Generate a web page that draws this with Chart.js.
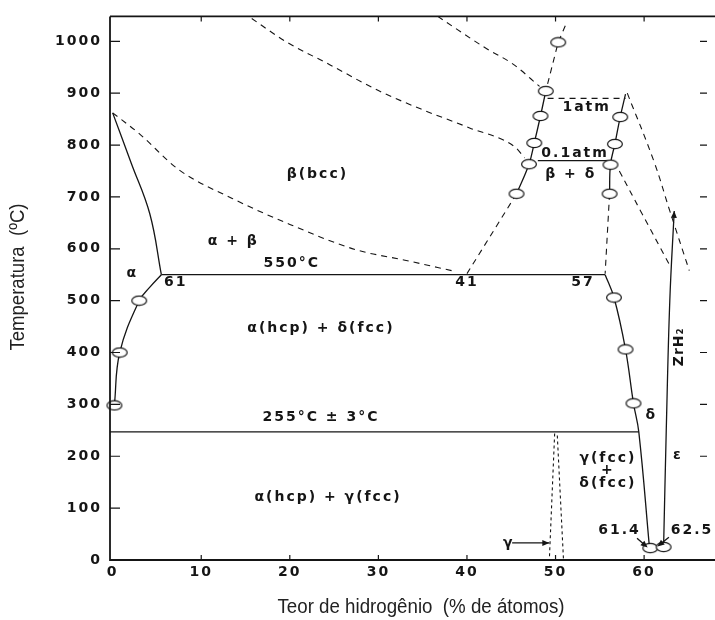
<!DOCTYPE html>
<html>
<head>
<meta charset="utf-8">
<script src="https://cdn.jsdelivr.net/npm/chart.js@4/dist/chart.umd.min.js"></script>
<style>
  html, body { margin: 0; background: #fff; }
</style>
</head>
<body>
<canvas id="chart" width="715" height="620"></canvas>
<script>
// tick labels
const xTicks = [0, 10, 20, 30, 40, 50, 60];
const yTicks = [0, 100, 200, 300, 400, 500, 600, 700, 800, 900, 1000];

// phase boundaries (x = % H atoms, y = temperature in C)
const alphaSolvusHigh = [{x: 0, y: 862}, {x: 2.1, y: 765}, {x: 4.2, y: 667}, {x: 5.5, y: 550}];
const alphaSolvusLow = [{x: 0.2, y: 300}, {x: 0.8, y: 400}, {x: 3.0, y: 500}, {x: 4.2, y: 526}, {x: 5.5, y: 550}];
const line550 = [{x: 5.5, y: 550}, {x: 55.6, y: 550}];
const line255 = [{x: -0.3, y: 247}, {x: 59.4, y: 247}];
const deltaLeft = [{x: 55.6, y: 550}, {x: 56.6, y: 506}, {x: 57.9, y: 406}, {x: 58.8, y: 302}, {x: 59.4, y: 247}, {x: 60.6, y: 25}];
const epsilonLine = [{x: 63.4, y: 673}, {x: 62.9, y: 500}, {x: 62.5, y: 250}, {x: 62.2, y: 25}];
const dashA = [{x: 58.1, y: 900}, {x: 61.1, y: 769}, {x: 62.9, y: 673}, {x: 65.1, y: 558}];
const dashB = [{x: 57.2, y: 750}, {x: 59.6, y: 673}, {x: 62.8, y: 571}];
const leftChainTop = [{x: 51.1, y: 1030}, {x: 50.3, y: 998}, {x: 48.9, y: 904}];
const leftChain = [{x: 48.9, y: 904}, {x: 48.3, y: 856}, {x: 47.6, y: 804}, {x: 47.0, y: 763}, {x: 45.6, y: 706}];
const leftChainLow = [{x: 45.6, y: 706}, {x: 40.0, y: 552}];
const rightChain = [{x: 57.9, y: 898}, {x: 57.3, y: 854}, {x: 56.7, y: 802}, {x: 56.2, y: 762}, {x: 56.1, y: 706}];
const rightChainLow = [{x: 56.1, y: 706}, {x: 55.6, y: 552}];
const isobar1 = [{x: 49.1, y: 890}, {x: 57.9, y: 890}];
const isobar01 = [{x: 48.0, y: 770}, {x: 56.2, y: 770}];
const betaUpper = [{x: 15.7, y: 1044}, {x: 19.5, y: 1000}, {x: 24.5, y: 955}, {x: 30, y: 905}, {x: 35, y: 868}, {x: 40.3, y: 833}, {x: 45.5, y: 795}, {x: 46.5, y: 775}];
const betaTop = [{x: 36.7, y: 1048}, {x: 42.1, y: 987}, {x: 45.2, y: 956}, {x: 48.2, y: 913}];
const betaLower = [{x: 0, y: 862}, {x: 3, y: 822}, {x: 7.5, y: 752}, {x: 13.5, y: 697}, {x: 20, y: 647}, {x: 27.5, y: 598}, {x: 33, y: 578}, {x: 38.5, y: 557}];
const gammaLeft = [{x: 49.9, y: 244}, {x: 49.3, y: 0}];
const gammaRight = [{x: 50.2, y: 240}, {x: 50.9, y: 0}];
const gammaArrow = [{x: 45.1, y: 33}, {x: 49.3, y: 33}];
const arrow614 = [{x: 59.2, y: 42}, {x: 60.4, y: 24}];
const arrow625 = [{x: 62.8, y: 44}, {x: 61.5, y: 26}];

// measured points (open circles)
const circles = [
  {x: 0.2, y: 298}, {x: 0.8, y: 400}, {x: 3.0, y: 500},
  {x: 50.3, y: 998}, {x: 48.9, y: 904}, {x: 48.3, y: 856}, {x: 47.6, y: 804}, {x: 47.0, y: 763}, {x: 45.6, y: 706},
  {x: 57.3, y: 854}, {x: 56.7, y: 802}, {x: 56.2, y: 762}, {x: 56.1, y: 706},
  {x: 56.6, y: 506}, {x: 57.9, y: 406}, {x: 58.8, y: 302},
  {x: 60.7, y: 23}, {x: 62.2, y: 25}
];

// text in the diagram: [text, x, y]
const notes = [
  ['β(bcc)', 23.0, 744], ['α + β', 13.5, 615], ['α', 2.1, 552], ['61', 7.0, 535],
  ['550°C', 20.1, 571], ['41', 39.9, 535], ['57', 53.0, 535],
  ['1atm', 53.4, 873], ['0.1atm', 52.1, 783], ['β + δ', 51.6, 744],
  ['α(hcp) + δ(fcc)', 23.4, 446], ['255°C ± 3°C', 23.4, 275], ['α(hcp) + γ(fcc)', 24.2, 121],
  ['γ(fcc)', 55.8, 196], ['+', 55.8, 173], ['δ(fcc)', 55.8, 148],
  ['δ', 60.7, 279], ['ε', 63.7, 202], ['61.4', 57.1, 58], ['62.5', 65.3, 58], ['γ', 44.6, 33]
];
const sideNote = ['ZrH₂', 64.0, 411];

const ink = '#151515';
const labelFont = 'bold 14px "DejaVu Sans", sans-serif';

// ellipse marker
const ring = document.createElement('canvas');
ring.width = 18; ring.height = 12;
const rg = ring.getContext('2d');
rg.beginPath();
rg.ellipse(9, 6, 7.4, 4.7, 0, 0, 2 * Math.PI);
rg.fillStyle = '#fff';
rg.fill();
rg.lineWidth = 1.2;
rg.strokeStyle = ink;
rg.stroke();

function curve(data, dash, smooth, extra) {
  return Object.assign({
    data: data,
    showLine: true,
    borderColor: ink,
    borderWidth: dash ? 1.1 : 1.3,
    borderDash: dash || [],
    pointRadius: 0,
    tension: smooth ? 0.4 : 0,
    cubicInterpolationMode: smooth === 'm' ? 'monotone' : 'default',
    order: 1
  }, extra || {});
}

const D = [6, 5];
const datasets = [
  {data: circles, showLine: false, pointStyle: ring, pointRadius: 7, clip: false, order: 0},
  curve(alphaSolvusHigh, null, 's'),
  curve(alphaSolvusLow, null, 's'),
  curve(line550),
  curve(line255),
  curve(deltaLeft, null, 's'),
  curve(epsilonLine, null, 's', {arrowAt: 'start'}),
  curve(dashA, D, 's'),
  curve(dashB, D, 's'),
  curve(leftChainTop, D),
  curve(leftChain, null, 's'),
  curve(leftChainLow, D),
  curve(rightChain, null, 's'),
  curve(rightChainLow, D),
  curve(isobar1, D),
  curve(isobar01),
  curve(betaUpper, D, 'm'),
  curve(betaTop, D, 'm'),
  curve(betaLower, D, 'm'),
  curve(gammaLeft, [3, 3]),
  curve(gammaRight, [3, 3]),
  curve(gammaArrow, null, null, {arrowAt: 'end'}),
  curve(arrow614, null, null, {arrowAt: 'end'}),
  curve(arrow625, null, null, {arrowAt: 'end'})
];

function arrowHead(ctx, from, to) {
  const a = Math.atan2(to.y - from.y, to.x - from.x);
  ctx.save();
  ctx.translate(to.x, to.y);
  ctx.rotate(a);
  ctx.beginPath();
  ctx.moveTo(0, 0);
  ctx.lineTo(-7, -3);
  ctx.lineTo(-7, 3);
  ctx.closePath();
  ctx.fillStyle = ink;
  ctx.fill();
  ctx.restore();
}

const diagramPlugin = {
  id: 'diagram',
  beforeDraw(chart) {
    chart.ctx.letterSpacing = '2px';
  },
  afterDatasetsDraw(chart) {
    const ctx = chart.ctx;
    const a = chart.chartArea;
    const xs = chart.scales.x, ys = chart.scales.y;
    ctx.save();
    ctx.strokeStyle = ink;
    // frame
    ctx.lineWidth = 1.8;
    ctx.beginPath();
    ctx.moveTo(a.left, a.top); ctx.lineTo(a.left, a.bottom); ctx.lineTo(715, a.bottom);
    ctx.moveTo(a.left, a.top); ctx.lineTo(715, a.top);
    ctx.stroke();
    // inner ticks
    ctx.lineWidth = 1.2;
    ctx.beginPath();
    yTicks.forEach(v => {
      if (v === 0) return;
      const py = ys.getPixelForValue(v);
      ctx.moveTo(a.left, py); ctx.lineTo(a.left + 10, py);
      if (v >= 200) { ctx.moveTo(a.right - 7, py); ctx.lineTo(a.right, py); }
    });
    xTicks.forEach(v => {
      if (v === 0) return;
      const px = xs.getPixelForValue(v);
      ctx.moveTo(px, a.bottom); ctx.lineTo(px, a.bottom - 5);
      ctx.moveTo(px, a.top); ctx.lineTo(px, a.top + 5);
    });
    ctx.stroke();

    // arrowheads
    chart.data.datasets.forEach((ds, i) => {
      if (!ds.arrowAt) return;
      const pts = chart.getDatasetMeta(i).data;
      if (ds.arrowAt === 'end') arrowHead(ctx, pts[pts.length - 2], pts[pts.length - 1]);
      else arrowHead(ctx, pts[1], pts[0]);
    });

    // region labels
    ctx.fillStyle = ink;
    ctx.font = labelFont;
    ctx.letterSpacing = '2px';
    ctx.textAlign = 'center';
    ctx.textBaseline = 'middle';
    notes.forEach(([t, x, y]) => {
      ctx.fillText(t, xs.getPixelForValue(x) + 1, ys.getPixelForValue(y));
    });
    ctx.save();
    ctx.translate(xs.getPixelForValue(sideNote[1]), ys.getPixelForValue(sideNote[2]));
    ctx.rotate(-Math.PI / 2);
    ctx.letterSpacing = '1px';
    ctx.fillText(sideNote[0], 0, 0);
    ctx.restore();

    // axis titles, fitted to the reference width
    const title = (text, x, y, width, rot) => {
      ctx.save();
      ctx.letterSpacing = '0px';
      ctx.font = '20px "Liberation Sans", Arial, sans-serif';
      const w = ctx.measureText(text).width;
      ctx.translate(x, y);
      ctx.rotate(rot);
      ctx.scale(width / w, 1);
      ctx.fillStyle = '#222';
      ctx.textAlign = 'center';
      ctx.textBaseline = 'middle';
      ctx.fillText(text, 0, 0);
      ctx.restore();
    };
    title('Teor de hidrogênio  (% de átomos)', 421, 607, 287, 0);
    title('Temperatura  (ºC)', 18, 277, 147, -Math.PI / 2);
    ctx.restore();
  }
};

const tickFont = {family: 'DejaVu Sans', weight: 'bold', size: 14};

new Chart(document.getElementById('chart'), {
  type: 'scatter',
  data: {datasets: datasets},
  options: {
    responsive: false,
    animation: false,
    layout: {padding: {left: 0, top: 15, right: 5, bottom: 0}},
    plugins: {legend: {display: false}, tooltip: {enabled: false}},
    scales: {
      x: {
        type: 'linear', min: -0.3, max: 67.1,
        grid: {display: false, drawTicks: false}, border: {display: false},
        afterBuildTicks: s => { s.ticks = xTicks.map(v => ({value: v})); },
        afterFit: s => { s.height = 60; },
        ticks: {font: tickFont, color: ink, padding: 4, maxRotation: 0, callback: v => String(v)}
      },
      y: {
        type: 'linear', min: 0, max: 1048,
        grid: {display: false, drawTicks: false}, border: {display: false},
        afterBuildTicks: s => { s.ticks = yTicks.map(v => ({value: v})); },
        afterFit: s => { s.width = 110; },
        ticks: {font: tickFont, color: ink, padding: 8, callback: v => String(v)}
      }
    }
  },
  plugins: [diagramPlugin]
});
</script>
</body>
</html>
